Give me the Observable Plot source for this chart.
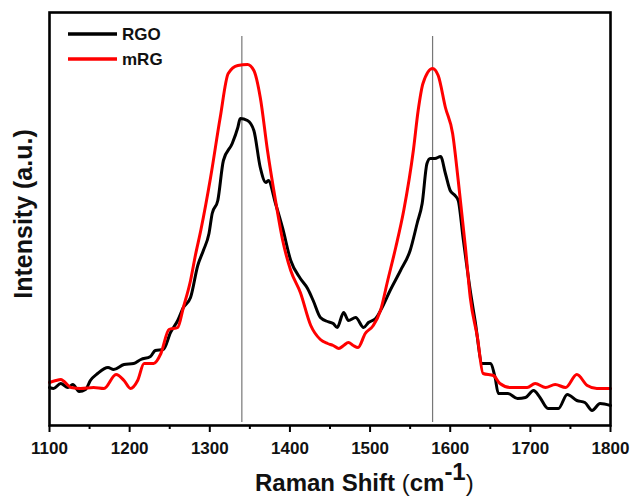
<!DOCTYPE html>
<html>
<head>
<meta charset="utf-8">
<script src="https://cdn.jsdelivr.net/npm/d3@7"></script>
<script src="https://cdn.jsdelivr.net/npm/@observablehq/plot@0.6"></script>
<style>
  html, body { margin: 0; padding: 0; background: #fff; }
  #chart { position: relative; width: 633px; height: 498px; }
  svg { font-family: "Liberation Sans", Arial, sans-serif; }
</style>
</head>
<body>
<div id="chart"></div>
<script>
// Raman shift (cm^-1) and intensity (a.u.)
const seriesNames = ["RGO", "mRG"];
const seriesColors = ["#000000", "#ff0000"];

const rgoShift = [1100,1105,1114,1123,1129,1137,1145,1151,1160,1173,1180,1193,1205,1214,1226,1232,1242,1251,1260,1267,1276,1285,1292,1299,1303,1310,1317,1328,1335,1338,1347,1355,1363,1370,1373,1382,1391,1401,1413,1422,1429,1438,1447,1454,1459,1467,1473,1482,1492,1498,1507,1515,1525,1538,1550,1559,1565,1571,1575,1581,1588,1594,1600,1606,1610,1616,1625,1631,1640,1650,1656,1660,1672,1684,1694,1704,1712,1722,1735,1746,1758,1768,1777,1787,1800];
const rgoIntensity = [38,37,42,38,41,34,36,45,52,58,56,61,62,66,69,75,76,93,105,118,128,160,175,192,212,225,265,282,298,307,305,295,258,243,245,222,197,165,147,137,125,108,104,102,98,113,105,108,98,103,107,118,135,155,175,203,222,262,267,267,269,252,235,230,225,188,135,105,62,62,48,32,32,27,28,35,28,17,17,31,25,23,15,22,20];

const mrgShift = [1100,1108,1114,1127,1139,1155,1168,1183,1193,1201,1210,1218,1230,1239,1249,1260,1267,1276,1282,1289,1301,1313,1323,1335,1347,1355,1363,1372,1382,1391,1401,1413,1426,1438,1447,1454,1461,1467,1473,1479,1485,1494,1504,1513,1522,1532,1542,1554,1560,1566,1578,1585,1594,1603,1610,1619,1625,1634,1641,1654,1662,1675,1696,1706,1719,1731,1744,1758,1771,1783,1800];
const mrgIntensity = [43,45,46,38,37,38,37,51,45,37,45,62,62,72,96,98,118,145,170,196,248,308,352,360,361,355,328,275,225,185,155,133,100,86,82,80,77,80,83,80,78,92,100,115,145,178,215,275,315,342,357,350,318,292,245,178,128,88,52,50,42,38,38,42,38,41,38,51,40,37,37];

const peakLines = [1340, 1578];
const peakLineSpan = [3, 389];
const majorTicks = [1100, 1200, 1300, 1400, 1500, 1600, 1700, 1800];
const minorTicks = [1150, 1250, 1350, 1450, 1550, 1650, 1750];
const yDomain = [0, 413];

const rgo = rgoShift.map((x, i) => ({x, y: rgoIntensity[i], s: "RGO"}));
const mrg = mrgShift.map((x, i) => ({x, y: mrgIntensity[i], s: "mRG"}));
const rules = peakLines.map(x => ({x, y1: peakLineSpan[0], y2: peakLineSpan[1]}));

const W = 633, H = 498;
const mL = 49, mR = 23, mT = 12, mB = 73;

const plot = Plot.plot({
  width: W,
  height: H,
  marginLeft: mL,
  marginRight: mR,
  marginTop: mT,
  marginBottom: mB,
  style: {fontFamily: '"Liberation Sans", Arial, sans-serif', background: "#fff", overflow: "visible"},
  x: {domain: [1100, 1800]},
  y: {domain: yDomain, axis: null},
  marks: [
    Plot.ruleX(rules, {x: "x", y1: "y1", y2: "y2", stroke: "#777", strokeWidth: 1.2}),
    Plot.line(rgo, {x: "x", y: "y", stroke: seriesColors[0], strokeWidth: 3, curve: "monotone-x"}),
    Plot.line(mrg, {x: "x", y: "y", stroke: seriesColors[1], strokeWidth: 3, curve: "monotone-x"}),
    Plot.axisX({ticks: minorTicks, tickSize: 4, tickFormat: () => "", strokeWidth: 2, label: null}),
    Plot.axisX({ticks: majorTicks, tickSize: 7, tickPadding: 9, tickFormat: d => String(d), strokeWidth: 2,
      fontSize: 17, fontWeight: "bold", fill: "#111", label: null}),
    Plot.frame({stroke: "#000", strokeWidth: 2.6})
  ]
});

document.getElementById("chart").appendChild(plot);

const svg = d3.select(plot);

// x axis title with superscript
const xt = svg.append("text")
  .attr("x", 255)
  .attr("y", 491)
  .attr("text-anchor", "start")
  .attr("font-size", 24)
  .attr("font-weight", "bold")
  .attr("fill", "#111");
xt.append("tspan").text("Raman Shift ");
xt.append("tspan").attr("font-weight", "normal").text("(");
xt.append("tspan").text("cm");
xt.append("tspan").attr("dy", -11).attr("font-size", 24).text("-1");
xt.append("tspan").attr("dy", 11).attr("font-weight", "normal").text(")");

// y axis title
svg.append("text")
  .attr("transform", "translate(32,214) rotate(-90)")
  .attr("text-anchor", "middle")
  .attr("font-size", 25)
  .attr("font-weight", "bold")
  .attr("fill", "#111")
  .text("Intensity (a.u.)");

// legend
const lg = svg.append("g").attr("transform", "translate(68,34)");
seriesNames.forEach((name, i) => {
  const g = lg.append("g").attr("transform", `translate(0,${i * 25})`);
  g.append("line").attr("x1", 0).attr("x2", 49).attr("y1", 0).attr("y2", 0)
    .attr("stroke", seriesColors[i]).attr("stroke-width", 3.5);
  g.append("text").attr("x", 54).attr("y", 6).attr("text-anchor", "start")
    .attr("font-size", 17).attr("font-weight", "bold").attr("fill", "#111").text(name);
});
</script>
</body>
</html>
